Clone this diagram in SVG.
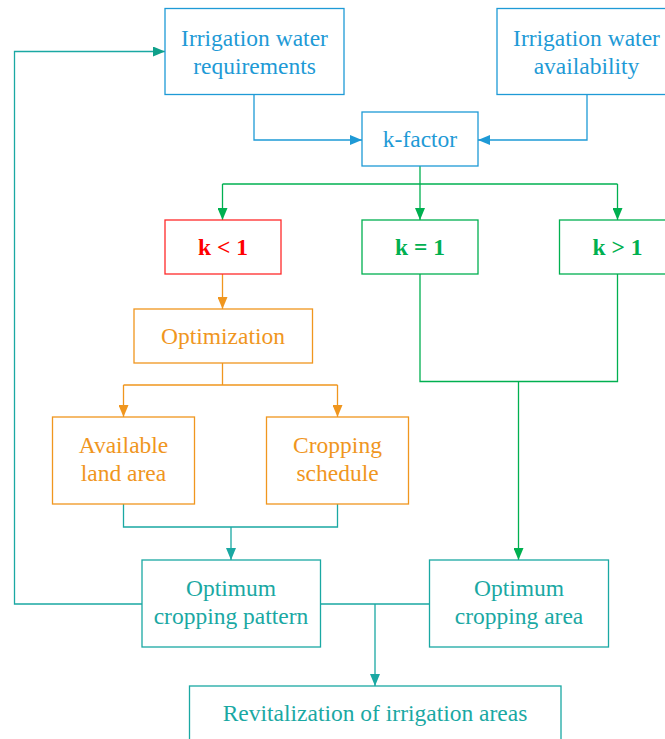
<svg xmlns="http://www.w3.org/2000/svg" width="665" height="739" viewBox="0 0 665 739">
<style>
text{font-family:"Liberation Serif","Times New Roman",serif;font-size:23.5px;text-anchor:middle}
rect{fill:#fff;stroke-width:1.3}
.blue rect{stroke:#1E9AD6}.blue text{fill:#1E9AD6}
.red rect{stroke:#FF2A2A}.red text{fill:#FF0000;font-weight:bold}
.green rect{stroke:#00B050}.green text{fill:#00B050;font-weight:bold}
.orange rect{stroke:#F0961E}.orange text{fill:#F0961E}
.teal rect{stroke:#1AA8A3}.teal text{fill:#1AA8A3}
.c{fill:none;stroke-width:1.3}
</style>
<defs>
<marker id="ab" markerWidth="12" markerHeight="10" refX="12" refY="5" orient="auto" markerUnits="userSpaceOnUse"><path d="M0,0L12,5L0,10z" fill="#1E9AD6"/></marker>
<marker id="ag" markerWidth="12" markerHeight="10" refX="12" refY="5" orient="auto" markerUnits="userSpaceOnUse"><path d="M0,0L12,5L0,10z" fill="#00B050"/></marker>
<marker id="ao" markerWidth="12" markerHeight="10" refX="12" refY="5" orient="auto" markerUnits="userSpaceOnUse"><path d="M0,0L12,5L0,10z" fill="#F0961E"/></marker>
<marker id="at" markerWidth="12" markerHeight="10" refX="12" refY="5" orient="auto" markerUnits="userSpaceOnUse"><path d="M0,0L12,5L0,10z" fill="#1AA8A3"/></marker>
<marker id="af" markerWidth="12" markerHeight="10" refX="12" refY="5" orient="auto" markerUnits="userSpaceOnUse"><path d="M0,0L12,5L0,10z" fill="#0FA08A"/></marker>
</defs>
<g id="connectors">
<path class="c" stroke="#1E9AD6" d="M254,95V140H362" marker-end="url(#ab)"/>
<path class="c" stroke="#1E9AD6" d="M587,95V140H478" marker-end="url(#ab)"/>
<path class="c" stroke="#00B050" d="M420,166V184"/>
<path class="c" stroke="#00B050" d="M222.5,184H617.5"/>
<path class="c" stroke="#00B050" d="M222.5,184V220" marker-end="url(#ag)"/>
<path class="c" stroke="#00B050" d="M420,184V220" marker-end="url(#ag)"/>
<path class="c" stroke="#00B050" d="M617.5,184V220" marker-end="url(#ag)"/>
<path class="c" stroke="#F0961E" d="M222.5,274V309" marker-end="url(#ao)"/>
<path class="c" stroke="#F0961E" d="M222.5,363V385M123.5,385H337.5"/>
<path class="c" stroke="#F0961E" d="M123.5,385V417" marker-end="url(#ao)"/>
<path class="c" stroke="#F0961E" d="M337.5,385V417" marker-end="url(#ao)"/>
<path class="c" stroke="#00B050" d="M420,274V381.5H617.5V274M518.5,381.5V560" marker-end="url(#ag)"/>
<path class="c" stroke="#1AA8A3" d="M123.5,504V527H337.5V504M231,527V560" marker-end="url(#at)"/>
<path class="c" stroke="#1AA8A3" d="M142,604H14.5V51.5H165" marker-end="url(#af)"/>
<path class="c" stroke="#1AA8A3" d="M320.5,604H429.5M375,604V686" marker-end="url(#at)"/>
</g>
<g id="n_req" class="blue"><rect x="165" y="8.5" width="179" height="86"/><text x="254.5" y="45.5">Irrigation water</text><text x="254.5" y="73.5">requirements</text></g>
<g id="n_avail" class="blue"><rect x="497" y="8.5" width="179" height="86"/><text x="586.5" y="45.5">Irrigation water</text><text x="586.5" y="73.5">availability</text></g>
<g id="n_k" class="blue"><rect x="362" y="112" width="116" height="54"/><text x="420" y="147">k-factor</text></g>
<g id="n_klt" class="red"><rect x="165" y="220" width="116" height="54"/><text x="223" y="255">k &lt; 1</text></g>
<g id="n_keq" class="green"><rect x="362" y="220" width="116" height="54"/><text x="420" y="255">k = 1</text></g>
<g id="n_kgt" class="green"><rect x="559.5" y="220" width="116" height="54"/><text x="617.5" y="255">k &gt; 1</text></g>
<g id="n_opt" class="orange"><rect x="134" y="309" width="178.5" height="54"/><text x="223" y="344">Optimization</text></g>
<g id="n_land" class="orange"><rect x="52.5" y="417" width="142" height="87"/><text x="123.5" y="452.5">Available</text><text x="123.5" y="480.5">land area</text></g>
<g id="n_sched" class="orange"><rect x="266.5" y="417" width="142" height="87"/><text x="337.5" y="452.5">Cropping</text><text x="337.5" y="480.5">schedule</text></g>
<g id="n_pattern" class="teal"><rect x="142" y="560" width="178.5" height="87"/><text x="231" y="596">Optimum</text><text x="231" y="624">cropping pattern</text></g>
<g id="n_area" class="teal"><rect x="429.5" y="560" width="179" height="87"/><text x="519" y="596">Optimum</text><text x="519" y="624">cropping area</text></g>
<g id="n_revit" class="teal"><rect x="189.5" y="686" width="371.5" height="70"/><text x="375" y="721">Revitalization of irrigation areas</text></g>
</svg>
